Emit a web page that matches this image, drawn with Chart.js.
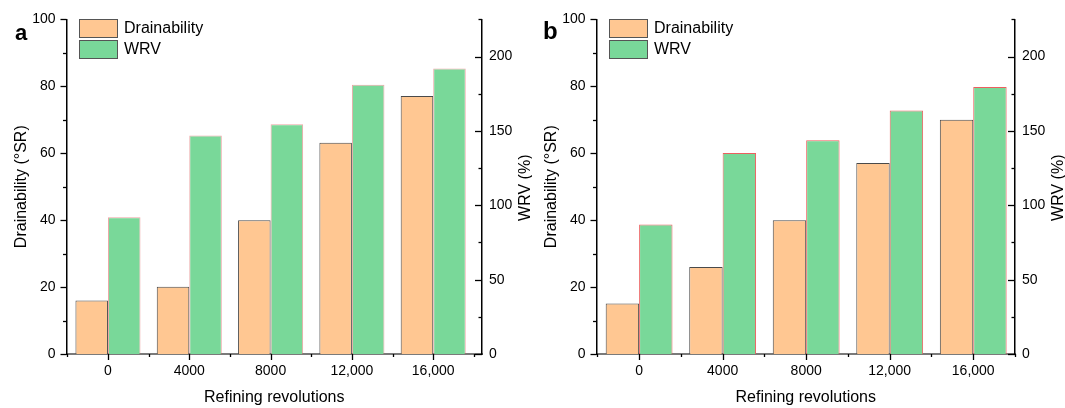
<!DOCTYPE html>
<html>
<head>
<meta charset="utf-8">
<script src="https://cdn.jsdelivr.net/npm/chart.js@4.4.1/dist/chart.umd.min.js"></script>
<style>
  html,body{margin:0;padding:0;background:#fff}
  .panel{position:absolute;top:0;height:408px}
  #pa{left:0;width:532px}
  #pb{left:530px;width:535px}
</style>
</head>
<body>
<div class="panel" id="pa"><canvas id="ca" width="532" height="408"></canvas></div>
<div class="panel" id="pb"><canvas id="cb" width="535" height="408"></canvas></div>
<script>
// data
const xLabels = ['0','4000','8000','12,000','16,000'];
const drainA = [16, 20.1, 40, 63.1, 77.1];
const wrvA   = [92, 147, 154.5, 181, 192];
const drainB = [15.1, 26, 40, 57.1, 70];
const wrvB   = [87, 135.2, 143.7, 163.7, 179.5];
const leftTicks  = [0,10,20,30,40,50,60,70,80,90,100];
const rightTicks = [0,25,50,75,100,125,150,175,200,225];
const xTicks = [-0.5,0,0.5,1,1.5,2,2.5,3,3.5,4,4.5];

const ORANGE = '#ffc792', GREEN = '#79d899';
const FONT = 'Arial, "Liberation Sans", sans-serif';

// tick marks: left outward, right inward, bottom down
const tickPlugin = {
  id:'ticks',
  afterDraw(chart){
    const ctx = chart.ctx, a = chart.chartArea, s = chart.scales;
    ctx.save(); ctx.strokeStyle='#000'; ctx.lineWidth=1.3;
    leftTicks.forEach(v=>{
      const y = Math.round(s.y.getPixelForValue(v))+0.5, len = v%20===0?6:3.5;
      ctx.beginPath(); ctx.moveTo(a.left-len,y); ctx.lineTo(a.left,y); ctx.stroke();
    });
    rightTicks.forEach(v=>{
      const y = Math.round(s.y1.getPixelForValue(v))+0.5, len = v%50===0?7:3.5;
      ctx.beginPath(); ctx.moveTo(a.right-len,y); ctx.lineTo(a.right,y); ctx.stroke();
    });
    xTicks.forEach(v=>{
      if(v < s.x.min || v > s.x.max) return;
      const x = Math.round(s.x.getPixelForValue(v))+0.5, len = Number.isInteger(v)?6:3;
      ctx.beginPath(); ctx.moveTo(x,a.bottom); ctx.lineTo(x,a.bottom+len); ctx.stroke();
    });
    // right axis title, reading bottom to top like the left one
    ctx.fillStyle='#000'; ctx.font='16px '+FONT; ctx.textAlign='center'; ctx.textBaseline='middle';
    ctx.translate(a.right+44, (a.top+a.bottom)/2+1); ctx.rotate(-Math.PI/2);
    ctx.fillText('WRV (%)', 0, 0);
    ctx.restore();
  }
};

// legend box + panel letter
const legendPlugin = {
  id:'boxLegend',
  afterDraw(chart, args, opts){
    const ctx = chart.ctx;
    ctx.save();
    chart.data.datasets.forEach((ds,i)=>{
      const y = 19 + i*21;
      ctx.fillStyle = ds.backgroundColor; ctx.fillRect(79.5,y+0.5,38,18);
      ctx.strokeStyle = '#555'; ctx.lineWidth=1; ctx.strokeRect(79.5,y+0.5,38,18);
      ctx.fillStyle='#000'; ctx.font='16px '+FONT; ctx.textBaseline='middle';
      ctx.fillText(ds.label, 124, y+10);
    });
    ctx.font = 'bold '+opts.size+'px '+FONT; ctx.textBaseline='alphabetic';
    ctx.fillText(opts.letter, opts.x, opts.y);
    ctx.restore();
  }
};

function makeChart(id, drain, wrv, xMax, wrvBorder, letter){
  return new Chart(document.getElementById(id), {
    type:'bar',
    data:{datasets:[
      {label:'Drainability', data:drain.map((v,i)=>({x:i,y:v})), backgroundColor:ORANGE, borderColor:'#4a4a4a', borderWidth:1, yAxisID:'y', categoryPercentage:0.8, barPercentage:1},
      {label:'WRV', data:wrv.map((v,i)=>({x:i,y:v})), backgroundColor:GREEN, borderColor:wrvBorder, borderWidth:1, yAxisID:'y1', categoryPercentage:0.8, barPercentage:1}
    ]},
    options:{
      responsive:false, animation:false,
      layout:{padding:{top:18,left:0,right:0,bottom:0}},
      plugins:{legend:{display:false}, tooltip:{enabled:false}, boxLegend:letter},
      scales:{
        x:{type:'linear', min:-0.51, max:xMax, offset:false, z:1,
          afterFit:s=>{s.height=54},
          afterBuildTicks:s=>{s.ticks = xLabels.map((_,i)=>({value:i}))},
          grid:{display:false, drawTicks:false, offset:false},
          border:{display:true, color:'#7a7a7a', width:2},
          ticks:{autoSkip:false, maxRotation:0, padding:9, color:'#000', font:{family:FONT,size:14},
            callback:v=>xLabels[v]},
          title:{display:true, text:'Refining revolutions', color:'#000', font:{family:FONT,size:16}, padding:{top:0,bottom:1}}
        },
        y:{position:'left', min:0, max:100,
          afterFit:s=>{s.width=66.5},
          afterBuildTicks:s=>{s.ticks = leftTicks.map(v=>({value:v}))},
          grid:{display:false, drawTicks:false},
          border:{display:true, color:'#000', width:1.5},
          ticks:{padding:11, color:'#000', font:{family:FONT,size:14}, callback:v=>v%20===0?v:''},
          title:{display:true, text:'Drainability (°SR)', color:'#000', font:{family:FONT,size:16}, padding:{top:12,bottom:0}}
        },
        y1:{position:'right', min:0, max:225,
          afterFit:s=>{s.width=50},
          afterBuildTicks:s=>{s.ticks = rightTicks.map(v=>({value:v}))},
          grid:{display:false, drawTicks:false},
          border:{display:true, color:'#000', width:1.5},
          ticks:{padding:7, color:'#000', font:{family:FONT,size:14}, callback:v=>v%50===0?v:''},
          title:{display:false}
        }
      }
    },
    plugins:[tickPlugin, legendPlugin]
  });
}

makeChart('ca', drainA, wrvA, 4.6, 'rgba(225,105,105,0.6)', {letter:'a', size:22, x:15, y:40});
makeChart('cb', drainB, wrvB, 4.5, '#ec5f5f', {letter:'b', size:24, x:13, y:39});
</script>
</body>
</html>
